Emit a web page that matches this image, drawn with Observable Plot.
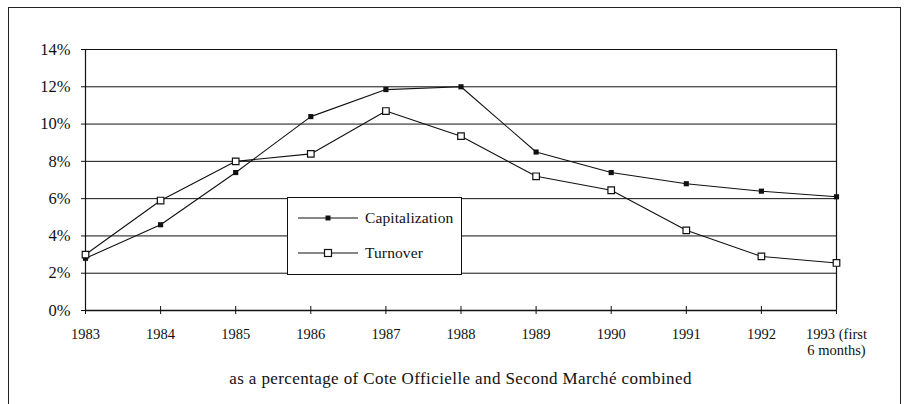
<!DOCTYPE html>
<html>
<head>
<meta charset="utf-8">
<script src="https://cdn.jsdelivr.net/npm/d3@7"></script>
<script src="https://cdn.jsdelivr.net/npm/@observablehq/plot@0.6"></script>
<style>
  html, body { margin: 0; padding: 0; background: #fff; width: 906px; height: 404px; overflow: hidden; }
  #wrap { position: relative; width: 906px; height: 404px; font-family: 'Liberation Serif'; color: #111; }
  #outer { position: absolute; left: 8px; top: 7px; width: 893px; height: 420px; border: 1px solid #222; box-sizing: border-box; }
  #chart { position: absolute; left: 0; top: 0; }
  #legend { position: absolute; left: 287px; top: 197px; width: 175px; height: 78px; background: #fff; border: 1px solid #111; box-sizing: border-box; }
  .row { position: absolute; left: 10px; height: 20px; display: flex; align-items: center; font-family: 'Liberation Serif'; font-size: 15.5px; letter-spacing: 0.1px; }
  .row svg { margin-right: 5px; }
  #caption { position: absolute; left: 85px; width: 751px; top: 369px; text-align: center; font-family: 'Liberation Serif'; font-size: 17px; letter-spacing: 0.4px; }
</style>
</head>
<body>
<div id="wrap">
  <div id="outer"></div>
  <div id="chart"></div>
  <div id="legend"></div>
  <div id="caption"></div>
</div>
<script>
const years = [1983, 1984, 1985, 1986, 1987, 1988, 1989, 1990, 1991, 1992, 1993];
const capitalization = [2.8, 4.6, 7.4, 10.4, 11.85, 12.0, 8.5, 7.4, 6.8, 6.4, 6.1];
const turnover = [3.0, 5.9, 8.0, 8.4, 10.7, 9.35, 7.2, 6.45, 4.3, 2.9, 2.55];
const yTicks = [0, 2, 4, 6, 8, 10, 12, 14];
const gridValues = [2, 4, 6, 8, 10, 12, 14];
const xTickLabels = ["1983", "1984", "1985", "1986", "1987", "1988", "1989", "1990", "1991", "1992", "1993 (first\n6 months)"];
const seriesNames = ["Capitalization", "Turnover"];
const captionText = "as a percentage of Cote Officielle and Second Marché combined";

const capData = years.map((y, i) => ({year: y, value: capitalization[i]}));
const turnData = years.map((y, i) => ({year: y, value: turnover[i]}));

const chart = Plot.plot({
  width: 906,
  height: 360,
  marginLeft: 85,
  marginRight: 70,
  marginTop: 49,
  marginBottom: 50,
  style: {fontFamily: "'Liberation Serif'", fontSize: "15px", color: "#111", background: "transparent"},
  x: {type: "linear", domain: [1983, 1993]},
  y: {domain: [0, 14]},
  marks: [
    Plot.ruleY(gridValues, {stroke: "#111", strokeWidth: 1}),
    Plot.ruleY([0], {stroke: "#111", strokeWidth: 1.6}),
    Plot.ruleX([1983, 1993], {y1: 0, y2: 14, stroke: "#111", strokeWidth: 1.2}),
    Plot.axisY({ticks: yTicks, tickSize: 4, tickPadding: 11, tickFormat: d => d + "%", stroke: "#111", fontSize: 16.5, label: null}),
    Plot.axisX({ticks: years, tickSize: 8, dy: -4, tickPadding: 14, tickFormat: d => xTickLabels[years.indexOf(d)], stroke: "#111", fontSize: 14.5, label: null, lineHeight: 1.05}),
    Plot.line(capData, {x: "year", y: "value", stroke: "#111", strokeWidth: 1.1}),
    Plot.line(turnData, {x: "year", y: "value", stroke: "#111", strokeWidth: 1.1}),
    Plot.dot(capData, {x: "year", y: "value", symbol: "square", r: 2.9, fill: "#111", stroke: "none"}),
    Plot.dot(turnData, {x: "year", y: "value", symbol: "square", r: 3.7, fill: "#fff", stroke: "#111", strokeWidth: 1.2})
  ]
});
document.getElementById("chart").appendChild(chart);

// Legend
const legend = document.getElementById("legend");
seriesNames.forEach((name, i) => {
  const row = document.createElement("div");
  row.className = "row";
  row.style.top = (i === 0 ? 10 : 45) + "px";
  const filled = i === 0;
  row.innerHTML = `<svg width="62" height="20"><line x1="0" y1="10" x2="60" y2="10" stroke="#111" stroke-width="1.1"/>` +
    (filled
      ? `<rect x="27.5" y="7.5" width="5" height="5" fill="#111"/>`
      : `<rect x="26.5" y="6.5" width="7" height="7" fill="#fff" stroke="#111" stroke-width="1.2"/>`) +
    `</svg><span>${name}</span>`;
  legend.appendChild(row);
});

document.getElementById("caption").textContent = captionText;
</script>
</body>
</html>
